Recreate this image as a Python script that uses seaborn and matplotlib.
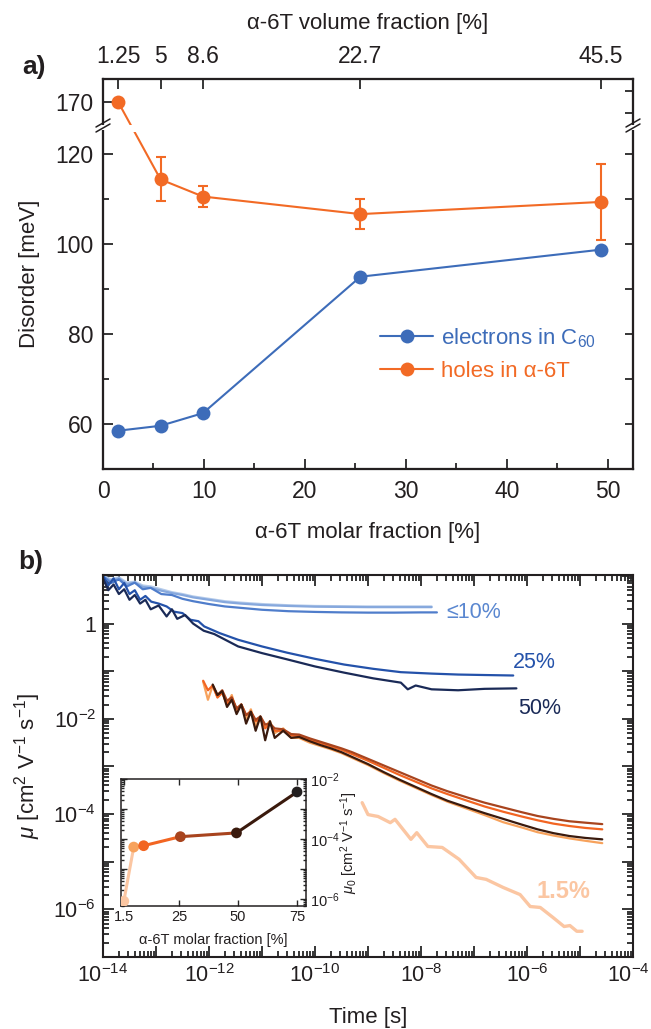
import numpy as np
import pandas as pd
import matplotlib
matplotlib.use("Agg")
import matplotlib.pyplot as plt
import seaborn as sns
from matplotlib.lines import Line2D
from matplotlib.patches import Rectangle
from matplotlib.transforms import ScaledTranslation
from matplotlib.ticker import FixedLocator, LogLocator, NullFormatter, FuncFormatter

sns.set_theme(style="ticks")
plt.rcParams["font.family"] = ["Liberation Sans", "DejaVu Sans"]
plt.rcParams["mathtext.fontset"] = "custom"
plt.rcParams["mathtext.rm"] = "Liberation Sans"
plt.rcParams["mathtext.it"] = "Liberation Sans:italic"
plt.rcParams["mathtext.bf"] = "Liberation Sans:bold"

# ---------------- data: panel a ----------------
molar = [1.5, 5.7, 9.9, 25.5, 49.3]
volume_labels = ["1.25", "5", "8.6", "22.7", "45.5"]
electron_disorder = [58.5, 59.6, 62.4, 92.7, 98.7]
hole_disorder = [170.0, 114.3, 110.5, 106.6, 109.3]
hole_err = [0.0, 4.9, 2.3, 3.3, 8.4]
break_shift = 38.5  # values above the axis break are drawn shifted down

# ---------------- data: panel b (log10 values) ----------------
elec_t_low = [-14.0, -13.85, -13.7, -13.55, -13.4, -13.25, -13.1, -12.9, -12.7, -12.5, -12.3,
              -12.0, -11.7, -11.4, -11.0, -10.5, -10.0, -9.5, -9.0, -8.5, -8.0, -7.8]
elec_1p5 = [1.0, 0.93, 0.97, 0.86, 0.88, 0.8, 0.78, 0.72, 0.66, 0.62, 0.57,
            0.52, 0.47, 0.44, 0.41, 0.385, 0.37, 0.365, 0.36, 0.36, 0.36, 0.36]
elec_5 = [0.98, 0.9, 0.95, 0.83, 0.86, 0.77, 0.75, 0.69, 0.64, 0.6, 0.55,
          0.5, 0.45, 0.42, 0.39, 0.37, 0.355, 0.35, 0.345, 0.345, 0.345, 0.345]
elec_t_10 = [-14.0, -13.85, -13.7, -13.55, -13.4, -13.25, -13.1, -12.9, -12.7, -12.5, -12.3,
             -12.0, -11.7, -11.4, -11.0, -10.5, -10.0, -9.5, -9.0, -8.5, -8.0, -7.7]
elec_10 = [1.0, 0.85, 0.93, 0.78, 0.86, 0.72, 0.75, 0.62, 0.6, 0.52, 0.47,
           0.41, 0.36, 0.33, 0.29, 0.26, 0.245, 0.235, 0.23, 0.23, 0.235, 0.235]
elec_t_25 = [-14.0, -13.9, -13.8, -13.7, -13.6, -13.5, -13.4, -13.3, -13.2, -13.09, -12.95,
             -12.8, -12.66, -12.5, -12.35, -12.2, -12.09, -11.8, -11.45, -11.0, -10.53,
             -10.0, -9.45, -8.9, -8.38, -7.8, -7.3, -6.8, -6.26]
elec_25 = [1.0, 0.8, 0.95, 0.72, 0.85, 0.62, 0.7, 0.5, 0.58, 0.46, 0.42,
           0.36, 0.25, 0.22, 0.08, 0.05, -0.06, -0.2, -0.34, -0.48, -0.61,
           -0.74, -0.86, -0.95, -1.02, -1.05, -1.07, -1.08, -1.09]
elec_t_50 = [-14.0, -13.9, -13.8, -13.7, -13.6, -13.5, -13.4, -13.3, -13.2, -13.1, -12.95,
             -12.8, -12.7, -12.6, -12.45, -12.3, -12.1, -11.9, -11.45, -11.0, -10.53,
             -10.0, -9.45, -8.9, -8.38, -8.25, -8.1, -7.8, -7.3, -6.8, -6.2]
elec_50 = [0.95, 0.7, 0.82, 0.62, 0.72, 0.5, 0.6, 0.42, 0.5, 0.3, 0.38,
           0.15, 0.3, 0.1, 0.18, 0.0, -0.15, -0.22, -0.48, -0.62, -0.75,
           -0.9, -1.03, -1.15, -1.24, -1.38, -1.3, -1.38, -1.4, -1.37, -1.36]

hole_t = [-12.11, -12.02, -11.93, -11.84, -11.75, -11.66, -11.57, -11.48, -11.39, -11.3,
          -11.21, -11.12, -11.03, -10.94, -10.85, -10.76, -10.6, -10.45, -10.3, -10.1,
          -9.9, -9.7, -9.5, -9.3, -9.0, -8.7, -8.4, -8.1, -7.8, -7.5,
          -7.1, -6.8, -6.45, -6.1, -5.8, -5.5, -5.2, -4.9, -4.58]
hole_5 = [-1.22, -1.6, -1.3, -1.55, -1.45, -1.7, -1.5, -1.85, -1.7, -2.0,
          -1.8, -2.15, -1.95, -2.15, -2.05, -2.3, -2.2, -2.4, -2.4, -2.5,
          -2.57, -2.64, -2.72, -2.82, -2.97, -3.14, -3.3, -3.45, -3.6, -3.74,
          -3.9, -4.02, -4.17, -4.28, -4.38, -4.45, -4.51, -4.56, -4.61]
hole_10 = [-1.2, -1.4, -1.3, -1.55, -1.45, -1.7, -1.55, -1.8, -1.7, -1.92,
           -1.85, -2.05, -2.0, -2.2, -2.1, -2.25, -2.25, -2.35, -2.36, -2.44,
           -2.51, -2.58, -2.65, -2.74, -2.88, -3.03, -3.18, -3.32, -3.46, -3.58,
           -3.73, -3.84, -3.95, -4.05, -4.13, -4.2, -4.25, -4.29, -4.32]
hole_25 = [np.nan, np.nan, -1.3, -1.5, -1.4, -1.62, -1.55, -1.78, -1.7, -1.92,
           -1.85, -2.02, -1.95, -2.12, -2.1, -2.2, -2.22, -2.32, -2.33, -2.41,
           -2.48, -2.55, -2.62, -2.7, -2.84, -2.98, -3.12, -3.26, -3.4, -3.52,
           -3.66, -3.76, -3.86, -3.96, -4.04, -4.1, -4.15, -4.18, -4.21]
hole_50 = [np.nan, np.nan, -1.28, -1.5, -1.42, -1.75, -1.6, -1.9, -1.7, -2.1,
           -1.85, -2.25, -1.95, -2.45, -2.05, -2.4, -2.25, -2.4, -2.38, -2.47,
           -2.55, -2.62, -2.7, -2.8, -2.95, -3.12, -3.28, -3.43, -3.58, -3.72,
           -3.87, -3.98, -4.1, -4.22, -4.32, -4.4, -4.46, -4.5, -4.53]
hole_t_1p5 = [-9.11, -9.0, -8.81, -8.58, -8.49, -8.19, -8.08, -7.87, -7.6, -7.28, -6.96,
              -6.77, -6.45, -6.13, -5.94, -5.75, -5.51, -5.3, -5.19, -5.06, -4.96]
hole_1p5 = [-3.76, -4.01, -4.05, -4.18, -4.11, -4.53, -4.39, -4.68, -4.7, -4.95, -5.33,
            -5.37, -5.54, -5.69, -5.94, -5.96, -6.17, -6.36, -6.34, -6.46, -6.46]

# ---------------- data: inset ----------------
inset_molar = [1.5, 5.7, 9.9, 25.5, 49.3, 75.0]
inset_mu0 = [8.5e-7, 5.4e-5, 6.0e-5, 1.2e-4, 1.6e-4, 3.7e-3]
inset_ticks = [1.5, 25, 50, 75]

# ---------------- styling ----------------
BLUE = "#3d6cb9"
ORANGE = "#f26a25"
INK = "#231f20"
W, H = 651, 1029
FS = 16
TFS = 16.5


def fig_px(x, y):
    return x / W, 1 - y / H


fig = plt.figure(figsize=(W / 100, H / 100), dpi=100)

# ================= panel a =================
axa = fig.add_axes([103 / W, 1 - 469 / H, 530 / W, 390 / H])
hole_plot = [h - break_shift if h > 125 else h for h in hole_disorder]
dfa = pd.DataFrame({"molar": molar + molar,
                    "disorder": electron_disorder + hole_plot,
                    "carrier": ["e"] * len(molar) + ["h"] * len(molar)})
sns.lineplot(data=dfa, x="molar", y="disorder", hue="carrier",
             palette={"e": BLUE, "h": ORANGE}, marker="o", markersize=10,
             markeredgewidth=0, linewidth=1.5, ax=axa, legend=False)
axa.errorbar(molar[1:], hole_plot[1:], yerr=hole_err[1:], fmt="none",
             ecolor=ORANGE, elinewidth=1.5, capsize=3.5, capthick=1.5, zorder=1.9)
axa.set_xlim(0, 52.5)
axa.set_ylim(50, 136.6)
axa.axhspan(124.9, 126.4, color="white", zorder=2.2, lw=0)

axa.xaxis.set_major_locator(FixedLocator([0, 10, 20, 30, 40, 50]))
axa.xaxis.set_minor_locator(FixedLocator([5, 15, 25, 35, 45]))
axa.set_yticks([60, 80, 100, 120, 170 - break_shift])
axa.set_yticklabels(["60", "80", "100", "120", "170"])
axa.yaxis.set_minor_locator(FixedLocator([70, 90, 110]))
axa.tick_params(which="both", direction="in", labelsize=TFS, width=1.3, top=False, right=False,
                labelcolor=INK)
axa.tick_params(axis="x", which="major", length=7, pad=8)
axa.tick_params(axis="x", which="minor", length=4)
axa.tick_params(axis="y", which="major", length=7, pad=7)
axa.tick_params(axis="y", which="minor", length=4)
for s in axa.spines.values():
    s.set_linewidth(1.5)
    s.set_color(INK)
axa.set_xlabel("α-6T molar fraction [%]", fontsize=FS, color=INK)
axa.set_ylabel("Disorder [meV]", fontsize=FS, color=INK)
axa.xaxis.set_label_coords(0.5, (469 - 532) / 390)
axa.xaxis.label.set_va("center")
axa.yaxis.set_label_coords((30 - 103) / 530, 0.5)
axa.yaxis.label.set_va("center")

# right-hand ticks
axr = axa.twinx()
axr.set_ylim(axa.get_ylim())
axr.set_yticks([60, 70, 80, 90, 100, 110, 120, 129.1, 133.9])
axr.set_yticklabels([])
axr.tick_params(axis="y", direction="in", length=6, width=1.3)
# top axis: volume fraction
axt = axa.twiny()
axt.set_xlim(axa.get_xlim())
axt.set_xticks(molar)
axt.set_xticklabels(volume_labels)
axt.tick_params(axis="x", direction="in", length=7, width=1.3, labelsize=TFS, pad=8,
                labelcolor=INK)
axt.set_xlabel("α-6T volume fraction [%]", fontsize=FS, color=INK)
axt.xaxis.set_label_coords(0.5, (469 - 23) / 390)
axt.xaxis.label.set_va("center")
for a in (axr, axt):
    for s in a.spines.values():
        s.set_linewidth(1.5)
        s.set_color(INK)

# axis break marks
for xs in (103, 633):
    fig.patches.append(Rectangle(fig_px(xs - 3, 130), 6 / W, 5 / H, transform=fig.transFigure,
                                 facecolor="white", edgecolor="none", zorder=5))
    for dy in (0, -5):
        x0, y0 = fig_px(xs - 7, 132 + dy)
        x1, y1 = fig_px(xs + 7, 124 + dy)
        fig.lines.append(Line2D([x0, x1], [y0, y1], transform=fig.transFigure,
                                color=INK, lw=1.1, zorder=6))

# legend
handles = [Line2D([], [], color=BLUE, marker="o", markersize=10, markeredgewidth=0, lw=1.5),
           Line2D([], [], color=ORANGE, marker="o", markersize=10, markeredgewidth=0, lw=1.5)]
leg = axa.legend(handles, ["electrons in C$_{60}$", "holes in α-6T"],
                 loc="upper left", bbox_to_anchor=((380 - 103) / 530, (469 - 326) / 390),
                 frameon=False, fontsize=FS, handlelength=2.4, handletextpad=0.35,
                 labelspacing=0.5, borderpad=0, borderaxespad=0)
for t, c in zip(leg.get_texts(), [BLUE, ORANGE]):
    t.set_color(c)

fig.text(*fig_px(22, 67), "a)", fontsize=19, fontweight="bold", va="center", ha="left", color=INK)

# ================= panel b =================
axb = fig.add_axes([103 / W, 1 - 957 / H, 530 / W, 382 / H])
axb.set_xscale("log")
axb.set_yscale("log")

curves = [
    (elec_t_low, elec_1p5, "#b5cbea", 1.6),
    (elec_t_low, elec_5, "#86a8dd", 1.6),
    (elec_t_10, elec_10, "#4f7dcb", 1.6),
    (elec_t_25, elec_25, "#2452aa", 1.6),
    (elec_t_50, elec_50, "#1a2a57", 1.6),
    (hole_t_1p5, hole_1p5, "#fbc6a2", 2.4),
    (hole_t, hole_5, "#f7a25c", 1.6),
    (hole_t, hole_10, "#f26522", 1.6),
    (hole_t, hole_25, "#a8441e", 1.6),
    (hole_t, hole_50, "#3a1a0d", 1.6),
]
for lt, lm, col, lw in curves:
    d = pd.DataFrame({"t": 10 ** np.array(lt, float), "mu": 10 ** np.array(lm, float)}).dropna()
    sns.lineplot(data=d, x="t", y="mu", color=col, linewidth=lw, sort=False,
                 estimator=None, ax=axb, legend=False)

axb.set_xlim(1e-14, 1e-4)
axb.set_ylim(1e-7, 10 ** 1.02)
axb.xaxis.set_major_locator(LogLocator(base=10, numticks=30))
axb.xaxis.set_minor_locator(LogLocator(base=10, subs=np.arange(2, 10), numticks=30))
axb.yaxis.set_major_locator(LogLocator(base=10, numticks=30))
axb.yaxis.set_minor_locator(LogLocator(base=10, subs=np.arange(2, 10), numticks=30))
axb.xaxis.set_minor_formatter(NullFormatter())
axb.yaxis.set_minor_formatter(NullFormatter())


def even_decade(v, pos):
    e = int(round(np.log10(v)))
    if e % 2:
        return ""
    if e == 0:
        return "1"
    return "$10^{%d}$" % e


axb.xaxis.set_major_formatter(FuncFormatter(even_decade))
axb.yaxis.set_major_formatter(FuncFormatter(even_decade))
axb.tick_params(which="both", direction="in", top=True, right=True, labelsize=15.5, width=1.3,
                labelcolor=INK)
axb.tick_params(which="major", length=8)
axb.tick_params(which="minor", length=4)
axb.tick_params(axis="x", which="major", pad=5)
axb.tick_params(axis="y", which="major", pad=5)
for s in axb.spines.values():
    s.set_linewidth(1.5)
    s.set_color(INK)
axb.set_xlabel("Time [s]", fontsize=FS, color=INK)
axb.set_ylabel("$\\mu$ [cm$^2$ V$^{-1}$ s$^{-1}$]", fontsize=FS, color=INK)
axb.xaxis.set_label_coords(0.5, (957 - 1018) / 382)
axb.xaxis.label.set_va("center")
axb.yaxis.set_label_coords((28 - 103) / 530, 0.5)
axb.yaxis.label.set_va("center")

# keep the right-most time label inside the canvas
fig.canvas.draw()
for tick in axb.xaxis.get_major_ticks():
    if abs(np.log10(tick.get_loc()) + 4) < 1e-6:
        lbl = tick.label1
        lbl.set_transform(lbl.get_transform() + ScaledTranslation(-5 / 100, 0, fig.dpi_scale_trans))

lab_kw = dict(fontsize=15.5, va="center", ha="left")
fig.text(*fig_px(446, 612), "≤10%", color="#5a87d0", **lab_kw)
fig.text(*fig_px(513, 663), "25%", color="#2452aa", **lab_kw)
fig.text(*fig_px(518, 708), "50%", color="#1a2a57", **lab_kw)
fig.text(*fig_px(537, 892), "1.5%", color="#fbc6a2", fontweight="bold", fontsize=17,
         va="center", ha="left")

fig.text(*fig_px(18, 562), "b)", fontsize=19, fontweight="bold", va="center", ha="left", color=INK)

# ================= inset =================
axi = fig.add_axes([121 / W, 1 - 906 / H, 185 / W, 127 / H])
axi.set_yscale("log")
pt_colors = ["#fbc6a2", "#f7a25c", "#f26522", "#a8441e", "#3a1a0d", "#231f20"]
for i in range(len(inset_molar) - 1):
    seg = pd.DataFrame({"x": inset_molar[i:i + 2], "y": inset_mu0[i:i + 2]})
    sns.lineplot(data=seg, x="x", y="y", color=pt_colors[i], linewidth=2.2,
                 ax=axi, legend=False, estimator=None)
dfi = pd.DataFrame({"x": inset_molar, "y": inset_mu0, "k": list(range(len(inset_molar)))})
sns.scatterplot(data=dfi, x="x", y="y", hue="k", palette=pt_colors, s=60,
                edgecolor="none", legend=False, ax=axi, zorder=3)
axi.set_xlim(0.3, 78.8)
axi.set_ylim(10 ** -6.23, 1e-2)
axi.set_xticks(inset_ticks)
axi.set_xticklabels(["1.5", "25", "50", "75"])
axi.yaxis.tick_right()
axi.yaxis.set_label_position("right")
axi.yaxis.set_major_locator(FixedLocator([1e-6, 1e-5, 1e-4, 1e-3, 1e-2]))
axi.yaxis.set_minor_locator(LogLocator(base=10, subs=np.arange(2, 10), numticks=30))
axi.yaxis.set_minor_formatter(NullFormatter())
axi.yaxis.set_major_formatter(FuncFormatter(even_decade))
axi.tick_params(which="both", direction="in", top=True, left=True, right=True,
                labelsize=10.5, width=1.0, labelcolor=INK)
axi.tick_params(which="major", length=4, pad=3)
axi.tick_params(which="minor", length=2)
for s in axi.spines.values():
    s.set_linewidth(1.1)
    s.set_color(INK)
axi.set_xlabel("α-6T molar fraction [%]", fontsize=10.5, color=INK)
axi.set_ylabel("$\\mu_0$ [cm$^2$ V$^{-1}$ s$^{-1}$]", fontsize=10.5, rotation=90, color=INK)
axi.xaxis.set_label_coords(0.5, (906 - 940) / 127)
axi.xaxis.label.set_va("center")
axi.yaxis.set_label_coords((349 - 121) / 185, 0.5)
axi.yaxis.label.set_va("center")

fig.savefig("out.png", dpi=100)
